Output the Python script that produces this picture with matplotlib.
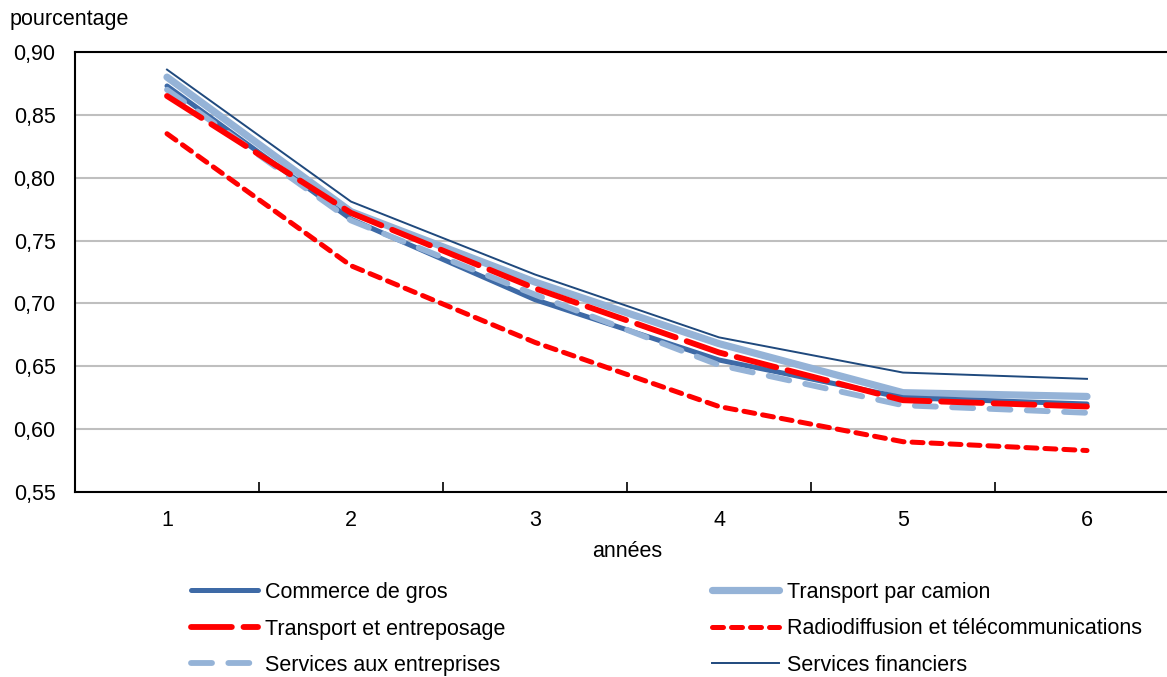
import matplotlib.pyplot as plt
from matplotlib.ticker import FixedLocator

plt.rcParams['font.family'] = ['Liberation Sans', 'DejaVu Sans']

years = [1, 2, 3, 4, 5, 6]
commerce_gros = [0.873, 0.767, 0.703, 0.655, 0.625, 0.620]
transport_entreposage = [0.865, 0.772, 0.712, 0.661, 0.623, 0.618]
services_entreprises = [0.870, 0.766, 0.707, 0.651, 0.619, 0.613]
transport_camion = [0.880, 0.773, 0.717, 0.668, 0.629, 0.626]
radiodiffusion = [0.835, 0.730, 0.669, 0.618, 0.590, 0.583]
services_financiers = [0.886, 0.781, 0.723, 0.673, 0.645, 0.640]

yticks = [0.55, 0.60, 0.65, 0.70, 0.75, 0.80, 0.85, 0.90]

dark_blue = '#3E6AA6'
light_blue = '#95B3D7'
navy = '#1F497D'
red = '#FF0000'
fs = 15.5

fig = plt.figure(figsize=(11.67, 6.77), dpi=100)
ax = fig.add_axes([75 / 1167, 1 - 492 / 677, (1179 - 75) / 1167, 440 / 677])

l_camion, = ax.plot(years, transport_camion, color=light_blue, lw=5.2,
                    solid_capstyle='round', label='Transport par camion', zorder=3)
l_commerce, = ax.plot(years, commerce_gros, color=dark_blue, lw=3.6,
                      solid_capstyle='round', label='Commerce de gros', zorder=4)
l_serv, = ax.plot(years, services_entreprises, color=light_blue, lw=4.2,
                  dashes=(3.6, 2.8), dash_capstyle='round',
                  label='Services aux entreprises', zorder=5)
l_transp, = ax.plot(years, transport_entreposage, color=red, lw=4.2,
                    dashes=(7, 2), dash_capstyle='round',
                    label='Transport et entreposage', zorder=6)
l_radio, = ax.plot(years, radiodiffusion, color=red, lw=3.6,
                   dashes=(2.2, 1.6), dash_capstyle='round',
                   label='Radiodiffusion et télécommunications', zorder=6)
l_fin, = ax.plot(years, services_financiers, color=navy, lw=1.4,
                 label='Services financiers', zorder=7)

ax.set_xlim(0.5, 6.5)
ax.set_ylim(0.55, 0.90)
ax.set_yticks(yticks)
ax.set_yticklabels([f'{v:.2f}'.replace('.', ',') for v in yticks], fontsize=fs)
ax.set_xticks(years)
ax.set_xticklabels([str(y) for y in years], fontsize=fs)
ax.xaxis.set_minor_locator(FixedLocator([1.5, 2.5, 3.5, 4.5, 5.5]))
ax.tick_params(axis='x', which='major', length=0, pad=13)
ax.tick_params(axis='x', which='minor', direction='in', length=7, width=1.2, color='black')
ax.tick_params(axis='y', length=0, pad=14)
ax.yaxis.grid(True, color='#BFBFBF', lw=1.5)
ax.set_axisbelow(True)

for s in ['left', 'bottom', 'top']:
    ax.spines[s].set_linewidth(1.5)
    ax.spines[s].set_color('black')
ax.spines['right'].set_visible(False)

ax.set_xlabel('années', fontsize=fs, labelpad=7)
fig.text(10 / 1167, 1 - 20 / 677, 'pourcentage', fontsize=fs, va='center', ha='left')

handles = [l_commerce, l_transp, l_serv, l_camion, l_radio, l_fin]
fig.legend(handles=handles, labels=[h.get_label() for h in handles], ncol=2,
           loc='center', bbox_to_anchor=(0.571, 1 - 629 / 677), frameon=False,
           fontsize=fs, handlelength=3.1, handletextpad=0.35,
           columnspacing=9.6, labelspacing=0.72)

fig.savefig('out.png', dpi=100)
